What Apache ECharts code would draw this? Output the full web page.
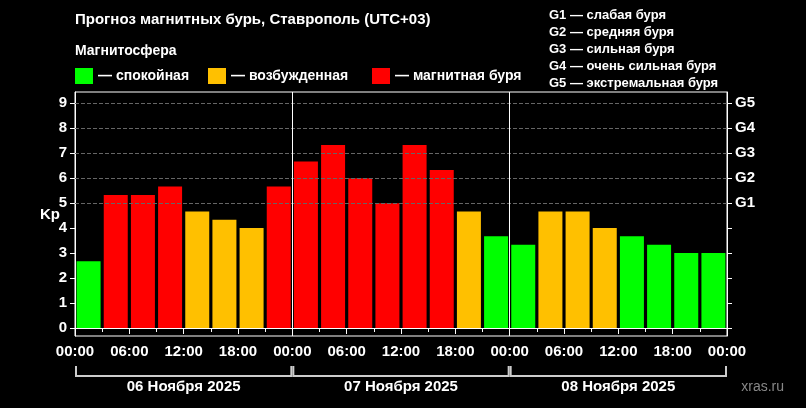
<!DOCTYPE html>
<html>
<head>
<meta charset="utf-8">
<script src="https://cdn.jsdelivr.net/npm/echarts@6/dist/echarts.min.js"></script>
<style>html,body{margin:0;background:#000}#chart{width:806px;height:408px}</style>
</head>
<body>
<div id="chart"></div>
<script>
// Kp каждые 3 часа, 06-08 ноября
var kp = [2.67,5.33,5.33,5.67,4.67,4.33,4.0,5.67,
          6.67,7.33,6.0,5.0,7.33,6.33,4.67,3.67,
          3.33,4.67,4.67,4.0,3.67,3.33,3.0,3.0];
var days = ['06 Ноября 2025','07 Ноября 2025','08 Ноября 2025'];
var kpTicks = [0,1,2,3,4,5,6,7,8,9];
var gLabels = {5:'G1',6:'G2',7:'G3',8:'G4',9:'G5'};
var gLegend = ['G1 — слабая буря','G2 — средняя буря','G3 — сильная буря','G4 — очень сильная буря','G5 — экстремальная буря'];

function kpColor(v){ return v < 4 ? '#00ff00' : (v < 5 ? '#ffc000' : '#ff0000'); }

var font = 'Liberation Sans, Arial, sans-serif';
var barData = kp.map(function(v,i){ return {value:[i*3+1.5, v], itemStyle:{color:kpColor(v)}}; });

var graphics = [
  {type:'text', left:75, top:12, style:{text:'Прогноз магнитных бурь, Ставрополь (UTC+03)', fill:'#fff', font:'bold 15px '+font}},
  {type:'text', left:75, top:44, style:{text:'Магнитосфера', fill:'#fff', font:'bold 14px '+font}},
  {type:'rect', left:75, top:68, shape:{width:18,height:16}, style:{fill:'#00ff00'}},
  {type:'text', left:98, top:69, style:{text:'— спокойная', fill:'#fff', font:'bold 14px '+font}},
  {type:'rect', left:208, top:68, shape:{width:18,height:16}, style:{fill:'#ffc000'}},
  {type:'text', left:231, top:69, style:{text:'— возбужденная', fill:'#fff', font:'bold 14px '+font}},
  {type:'rect', left:372, top:68, shape:{width:18,height:16}, style:{fill:'#ff0000'}},
  {type:'text', left:395, top:69, style:{text:'— магнитная буря', fill:'#fff', font:'bold 14px '+font}},
  {type:'text', left:40, top:207, style:{text:'Kp', fill:'#fff', font:'bold 15px '+font}},
  {type:'text', right:22, bottom:14, style:{text:'xras.ru', fill:'#888', font:'14px '+font}}
];
gLegend.forEach(function(t,i){
  graphics.push({type:'text', left:549, top:9+i*17, style:{text:t, fill:'#fff', font:'bold 13px '+font}});
});
// скобки под датами
var x0 = 75, x1 = 727, w = (x1-x0)/3;
days.forEach(function(d,i){
  var a = x0 + i*w + 1, b = x0 + (i+1)*w - 1;
  graphics.push({type:'polyline', shape:{points:[[a,366],[a,376],[b,376],[b,366]]}, style:{stroke:'#ccc', lineWidth:2, fill:null}});
  graphics.push({type:'text', x:(a+b)/2, y:379, style:{text:d, fill:'#fff', font:'bold 15px '+font, align:'center'}});
});

var option = {
  backgroundColor:'#000',
  animation:false,
  grid:{left:75, right:79, top:92, bottom:72, show:true, borderColor:'#fff', borderWidth:1},
  graphic:graphics,
  xAxis:{type:'value', min:0, max:72, interval:6,
    axisLine:{lineStyle:{color:'#fff'}},
    axisTick:{lineStyle:{color:'#fff'}, length:6},
    minorTick:{show:true, splitNumber:2, length:4, lineStyle:{color:'#fff'}},
    splitLine:{show:false},
    axisLabel:{color:'#fff', fontSize:15, fontWeight:'bold', fontFamily:font, margin:8,
      formatter:function(v){ var h=v%24; return (h<10?'0':'')+h+':00'; }}},
  yAxis:[
    {type:'value', min:-0.32, max:9.45,
      axisLine:{show:true, lineStyle:{color:'#fff'}},
      axisTick:{show:true, customValues:kpTicks, lineStyle:{color:'#fff'}},
      axisLabel:{color:'#fff', fontSize:15, fontWeight:'bold', fontFamily:font, customValues:kpTicks},
      splitLine:{show:false}},
    {type:'value', min:-0.32, max:9.45, position:'right',
      axisLine:{show:true, lineStyle:{color:'#fff'}},
      axisTick:{show:true, customValues:kpTicks, lineStyle:{color:'#fff'}},
      axisLabel:{color:'#fff', fontSize:15, fontWeight:'bold', fontFamily:font, customValues:kpTicks,
        formatter:function(v){ return gLabels[v] || ''; }},
      splitLine:{show:false}}
  ],
  series:[
    {type:'line', data:[], z:1, silent:true,
      markLine:{symbol:'none', silent:true, label:{show:false},
        lineStyle:{color:'#666', type:'dashed', width:1},
        data:[{yAxis:5},{yAxis:6},{yAxis:7},{yAxis:8},{yAxis:9}]}},
    {type:'line', data:[], z:1, silent:true,
      markLine:{symbol:'none', silent:true, label:{show:false},
        lineStyle:{color:'#fff', type:'solid', width:1},
        data:[{xAxis:24},{xAxis:48}]}},
    {type:'bar', data:barData, barWidth:24, z:3}
  ]
};
echarts.init(document.getElementById('chart')).setOption(option);
</script>
</body>
</html>
